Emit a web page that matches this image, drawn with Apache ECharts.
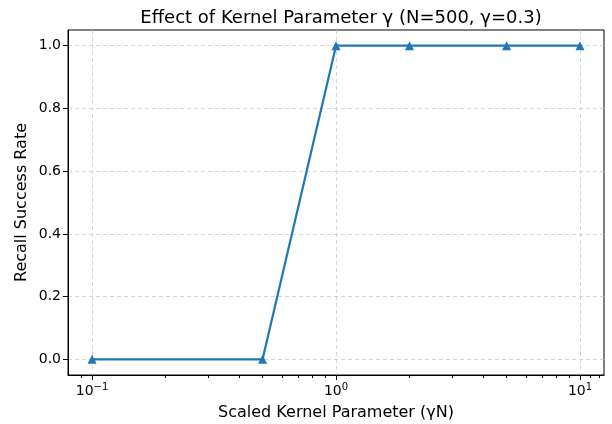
<!DOCTYPE html>
<html>
<head>
<meta charset="utf-8">
<script src="https://cdn.jsdelivr.net/npm/echarts@6/dist/echarts.min.js"></script>
<style>
  html, body { margin: 0; padding: 0; background: #fff; }
  #chart { width: 612px; height: 424px; }
</style>
</head>
<body>
<div id="chart"></div>
<script>
// 数据
const gammaN = [0.1, 0.5, 1, 2, 5, 10];
const recall = [0, 0, 1, 1, 1, 1];
const xMajor = [0.1, 1, 10];
const xMinor = [0.09, 0.2, 0.3, 0.4, 0.5, 0.6, 0.7, 0.8, 0.9, 2, 3, 4, 5, 6, 7, 8, 9, 11, 12];
const yTicks = [0, 0.2, 0.4, 0.6, 0.8, 1.0];

const FONT = 'DejaVu Sans';
const myChart = echarts.init(document.getElementById('chart'), null, { renderer: 'canvas' });

let points = gammaN.map(function (v, i) { return [v, recall[i]]; });

let option = {
  animation: false,
  backgroundColor: '#fff',
  title: {
    text: 'Effect of Kernel Parameter γ (N=500, γ=0.3)',
    left: 336,
    top: 4,
    textAlign: 'center',
    textStyle: { fontFamily: FONT, fontSize: 18, fontWeight: 'normal', color: '#000' }
  },
  grid: {
    left: 68, right: 8, top: 30, bottom: 49,
    outerBoundsMode: 'none',
    containLabel: false,
    show: true, borderColor: '#000', borderWidth: 1, backgroundColor: 'transparent'
  },
  xAxis: [{
    type: 'log',
    logBase: 10,
    min: 0.0797,
    max: 12.54,
    name: 'Scaled Kernel Parameter (γN)',
    nameLocation: 'middle',
    nameGap: 30,
    nameMoveOverlap: false,
    nameTextStyle: { fontFamily: FONT, fontSize: 16, color: '#000' },
    axisLine: { show: true, onZero: false, lineStyle: { color: '#000' } },
    axisTick: { show: true, length: 5, customValues: xMajor, lineStyle: { color: '#000' } },
    axisLabel: {
      customValues: xMajor,
      margin: 7,
      color: '#000',
      formatter: function (v) {
        let e = Math.round(Math.log10(v));
        let s = e < 0 ? '−' + (-e) : String(e);
        return '{b|10}{s|' + s + '}';
      },
      rich: {
        b: { fontFamily: FONT, fontSize: 14, color: '#000' },
        s: { fontFamily: FONT, fontSize: 10, color: '#000', padding: [0, 0, 8, 0] }
      }
    },
    splitLine: { show: true, lineStyle: { color: '#cccccc', type: [4, 3], width: 0.8 } }
  }, {
    type: 'log',
    logBase: 10,
    min: 0.0797,
    max: 12.54,
    position: 'bottom',
    axisLine: { show: false, onZero: false },
    axisTick: { show: true, length: 3, customValues: xMinor, lineStyle: { color: '#000' } },
    axisLabel: { show: false },
    splitLine: { show: false }
  }],
  yAxis: {
    type: 'value',
    min: -0.05,
    max: 1.05,
    name: 'Recall Success Rate',
    nameLocation: 'middle',
    nameGap: 38,
    nameMoveOverlap: false,
    nameTextStyle: { fontFamily: FONT, fontSize: 16, color: '#000' },
    axisLine: { show: true, onZero: false, lineStyle: { color: '#000' } },
    axisTick: { show: true, length: 5, customValues: yTicks, lineStyle: { color: '#000' } },
    axisLabel: {
      customValues: yTicks,
      margin: 7,
      fontFamily: FONT, fontSize: 14, color: '#000',
      formatter: function (v) { return v.toFixed(1); }
    },
    splitLine: { show: true, lineStyle: { color: '#cccccc', type: [4, 3], width: 0.8 } }
  },
  series: [{
    type: 'line',
    xAxisIndex: 0,
    data: points,
    symbol: 'triangle',
    symbolSize: 9,
    showAllSymbol: true,
    lineStyle: { color: '#1f77b4', width: 2.2 },
    itemStyle: { color: '#1f77b4' }
  }]
};

myChart.setOption(option);
</script>
</body>
</html>
